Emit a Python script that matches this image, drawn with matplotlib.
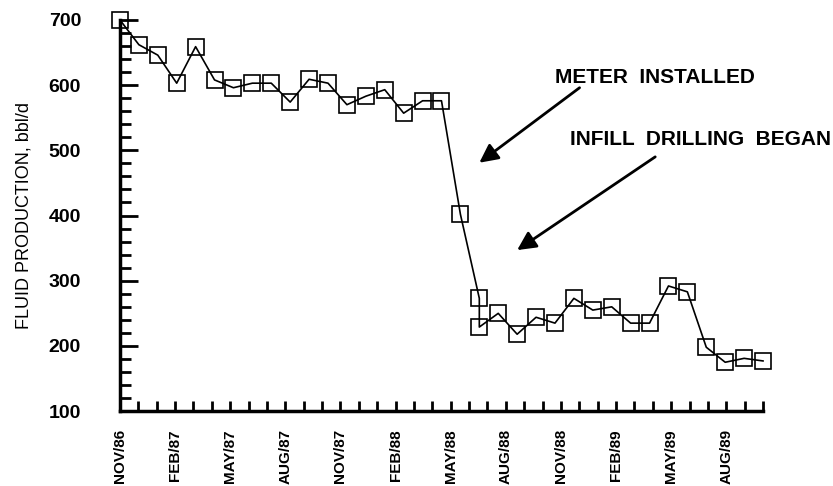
import numpy as np
import matplotlib.pyplot as plt
from matplotlib.ticker import MultipleLocator

## donnees
months = [0, 1, 2, 3, 4, 5, 6, 7, 8, 9, 10, 11, 12, 13, 14, 15, 16, 17, 18,
          19, 19, 20, 21, 22, 23, 24, 25, 26, 27, 28, 29, 30, 31, 32, 33, 34]
fluid = [700, 662, 646, 603, 659, 608, 596, 603, 603, 574, 609, 603, 570, 583, 593, 557, 576, 576, 402,
         273, 229, 250, 218, 244, 235, 273, 255, 260, 235, 235, 292, 283, 198, 175, 181, 177]
tick_labels = ['NOV/86', 'FEB/87', 'MAY/87', 'AUG/87', 'NOV/87', 'FEB/88',
               'MAY/88', 'AUG/88', 'NOV/88', 'FEB/89', 'MAY/89', 'AUG/89']

plt.rcParams['font.family'] = ['Liberation Sans', 'DejaVu Sans']

fig = plt.figure(figsize=(8.33, 4.86), dpi=100)
ax = fig.add_axes([0.144, 0.154, 0.772, 0.805])

ax.plot(months, fluid, color='black', lw=1.2, marker='s', ms=12, mfc='none',
        mec='black', mew=1.2, clip_on=False, zorder=3)

ax.set_xlim(0, 34)
ax.set_ylim(100, 700)

# ticks : 36 graduations mensuelles, etiquette tous les 3 mois
ticks = np.linspace(0, 34, 36)
ax.set_xticks(ticks)
ax.set_xticklabels([tick_labels[i // 3] if i % 3 == 0 else '' for i in range(len(ticks))],
                   rotation=90, fontsize=11, fontweight='bold')
ax.yaxis.set_major_locator(MultipleLocator(100))
ax.yaxis.set_minor_locator(MultipleLocator(20))
ax.tick_params(axis='x', direction='in', length=7, width=2, pad=13)
ax.tick_params(axis='y', which='major', direction='in', length=13, width=2, pad=28,
               labelsize=14)
ax.tick_params(axis='y', which='minor', direction='in', length=8, width=2)
for lab in ax.get_yticklabels():
    lab.set_fontweight('bold')

for s in ['top', 'right']:
    ax.spines[s].set_visible(False)
for s in ['left', 'bottom']:
    ax.spines[s].set_linewidth(2.5)

ax.set_ylabel('FLUID PRODUCTION, bbl/d', fontsize=13, labelpad=12)

## annotations
arrow = dict(arrowstyle='-|>', lw=2, color='black', mutation_scale=28, shrinkA=0, shrinkB=0)
ax.annotate('', xy=(19.0, 481), xytext=(24.3, 596), arrowprops=arrow, annotation_clip=False)
ax.text(28.3, 612, 'METER  INSTALLED', ha='center', va='center', fontsize=15,
        fontweight='heavy', clip_on=False)
ax.annotate('', xy=(21.0, 347), xytext=(28.3, 490), arrowprops=arrow, annotation_clip=False)
ax.text(23.8, 516, 'INFILL  DRILLING  BEGAN', ha='left', va='center', fontsize=15,
        fontweight='heavy', clip_on=False)

fig.savefig('out.png', dpi=100)
